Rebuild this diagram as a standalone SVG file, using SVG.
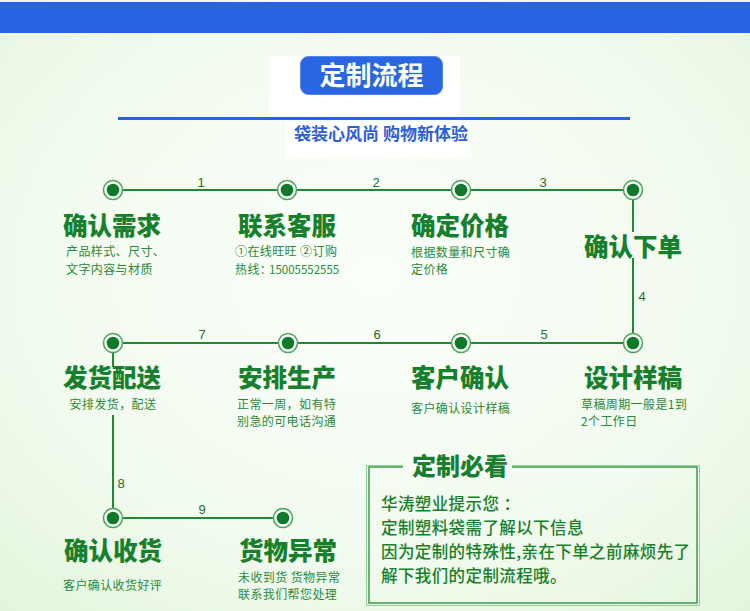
<svg xmlns="http://www.w3.org/2000/svg" width="750" height="611" viewBox="0 0 750 611">
<defs>
<radialGradient id="bg" cx="50%" cy="45%" r="75%">
<stop offset="0%" stop-color="#fbfefa"/>
<stop offset="60%" stop-color="#f2fbef"/>
<stop offset="100%" stop-color="#e2f5dc"/>
</radialGradient>
<style>
.ttl{font-family:"Noto Sans CJK SC","Noto Sans",sans-serif;font-weight:900;font-size:24.5px;fill:#17802c;text-anchor:middle}
.sub{font-family:"Noto Sans CJK SC","Noto Sans",sans-serif;font-weight:400;font-size:12px;letter-spacing:0.4px;fill:#2a8a3a}
.num{font-family:"Liberation Sans","DejaVu Sans",sans-serif;font-size:13px;fill:#1f6f2d;text-anchor:middle}
.box{font-family:"Noto Sans CJK SC","Noto Sans",sans-serif;font-weight:500;font-size:16.5px;letter-spacing:0.4px;fill:#178029}
.ln{stroke:#1f8a34;stroke-width:2;fill:none}
.ring{fill:#ffffff;stroke:#4aa85a;stroke-width:1.6}
.dot{fill:#0f7a2a}
</style>
</defs>
<rect x="0" y="0" width="750" height="611" fill="url(#bg)"/>
<rect x="0" y="2" width="750" height="31" fill="#2863e5"/>

<g id="header">
<rect x="269" y="56" width="191" height="59" fill="#ffffff"/>
<rect x="286" y="122" width="185" height="35" fill="#ffffff"/>
<rect x="300.5" y="56.5" width="142" height="38" rx="8" fill="#2a66e2" stroke="#4f85ee" stroke-width="1"/>
<text x="371.5" y="85" font-family="Noto Sans CJK SC,Noto Sans,sans-serif" font-weight="700" font-size="26" fill="#ffffff" text-anchor="middle">定制流程</text>
<rect x="118" y="117" width="512" height="3" fill="#2863e5"/>
<text x="381" y="139.5" font-family="Noto Sans CJK SC,Noto Sans,sans-serif" font-weight="700" font-size="17" fill="#2d5fd8" text-anchor="middle">袋装心风尚 购物新体验</text>
</g>

<g id="connectors">
<line class="ln" x1="113" y1="190" x2="633" y2="190"/>
<line class="ln" x1="633" y1="190" x2="633" y2="232"/>
<line class="ln" x1="633" y1="258" x2="633" y2="343"/>
<line class="ln" x1="113" y1="343" x2="633" y2="343"/>
<line class="ln" x1="113" y1="343" x2="113" y2="367"/>
<line class="ln" x1="113" y1="415" x2="113" y2="518"/>
<line class="ln" x1="113" y1="518" x2="283" y2="518"/>
<text class="num" x="201" y="186.5">1</text>
<text class="num" x="376" y="186.5">2</text>
<text class="num" x="543" y="186.5">3</text>
<text class="num" x="642" y="300.5">4</text>
<text class="num" x="544" y="338.5">5</text>
<text class="num" x="377" y="338.5">6</text>
<text class="num" x="202" y="338.5">7</text>
<text class="num" x="121" y="487.5">8</text>
<text class="num" x="202" y="513.5">9</text>
</g>

<g id="n1">
<circle class="ring" cx="113" cy="190" r="9.5"/><circle class="dot" cx="113" cy="190" r="6.3"/>
<text class="ttl" x="112" y="234.5">确认需求</text>
<text class="sub" x="66" y="256">产品样式、尺寸、<tspan x="66" dy="17.5">文字内容与材质</tspan></text>
</g>
<g id="n2">
<circle class="ring" cx="287" cy="190" r="9.5"/><circle class="dot" cx="287" cy="190" r="6.3"/>
<text class="ttl" x="287" y="234.5">联系客服</text>
<text class="sub" x="235" y="256">①在线旺旺 ②订购<tspan x="235" dy="17.5">热线：</tspan><tspan x="269" font-size="11.5" letter-spacing="0">15005552555</tspan></text>
</g>
<g id="n3">
<circle class="ring" cx="461" cy="190" r="9.5"/><circle class="dot" cx="461" cy="190" r="6.3"/>
<text class="ttl" x="460" y="234.5">确定价格</text>
<text class="sub" x="411" y="256.5">根据数量和尺寸确<tspan x="411" dy="17.5">定价格</tspan></text>
</g>
<g id="n4">
<circle class="ring" cx="633" cy="190" r="9.5"/><circle class="dot" cx="633" cy="190" r="6.3"/>
<text class="ttl" x="633" y="256">确认下单</text>
</g>
<g id="n5">
<circle class="ring" cx="633" cy="343" r="9.5"/><circle class="dot" cx="633" cy="343" r="6.3"/>
<text class="ttl" x="633" y="387">设计样稿</text>
<text class="sub" x="581" y="408.5">草稿周期一般是1到<tspan x="581" dy="17.5">2个工作日</tspan></text>
</g>
<g id="n6">
<circle class="ring" cx="461" cy="343" r="9.5"/><circle class="dot" cx="461" cy="343" r="6.3"/>
<text class="ttl" x="460" y="387">客户确认</text>
<text class="sub" x="411" y="413">客户确认设计样稿</text>
</g>
<g id="n7">
<circle class="ring" cx="288" cy="343" r="9.5"/><circle class="dot" cx="288" cy="343" r="6.3"/>
<text class="ttl" x="287" y="387">安排生产</text>
<text class="sub" x="237" y="408.5">正常一周，如有特<tspan x="237" dy="17.5">别急的可电话沟通</tspan></text>
</g>
<g id="n8">
<circle class="ring" cx="113" cy="343" r="9.5"/><circle class="dot" cx="113" cy="343" r="6.3"/>
<text class="ttl" x="112" y="387">发货配送</text>
<text class="sub" x="113" y="408.5" text-anchor="middle">安排发货，配送</text>
</g>
<g id="n9">
<circle class="ring" cx="113" cy="518" r="9.5"/><circle class="dot" cx="113" cy="518" r="6.3"/>
<text class="ttl" x="113" y="559.5">确认收货</text>
<text class="sub" x="63" y="590">客户确认收货好评</text>
</g>
<g id="n10">
<circle class="ring" cx="283" cy="518" r="9.5"/><circle class="dot" cx="283" cy="518" r="6.3"/>
<text class="ttl" x="288" y="559.5">货物异常</text>
<text class="sub" x="238" y="581.5">未收到货 货物异常<tspan x="238" dy="17.5">联系我们帮您处理</tspan></text>
</g>

<g id="notice">
<path d="M403,465.5 H366.5 V605.5 H699.5 V465.5 H512" fill="none" stroke="#8fcf9a" stroke-width="1"/>
<path d="M403,467 H369 V603 H697 V467 H512" fill="none" stroke="#3d9a4c" stroke-width="1.5"/>
<text x="460" y="475" font-family="Noto Sans CJK SC,Noto Sans,sans-serif" font-weight="900" font-size="24" fill="#17802c" stroke="#ffffff" stroke-width="3" paint-order="stroke" text-anchor="middle">定制必看</text>
<text class="box" x="381" y="510">华涛塑业提示您 ：</text>
<text class="box" x="381" y="534">定制塑料袋需了解以下信息<tspan x="381" dy="24">因为定制的特殊性,亲在下单之前麻烦先了</tspan><tspan x="381" dy="24">解下我们的定制流程哦。</tspan></text>
</g>
</svg>
